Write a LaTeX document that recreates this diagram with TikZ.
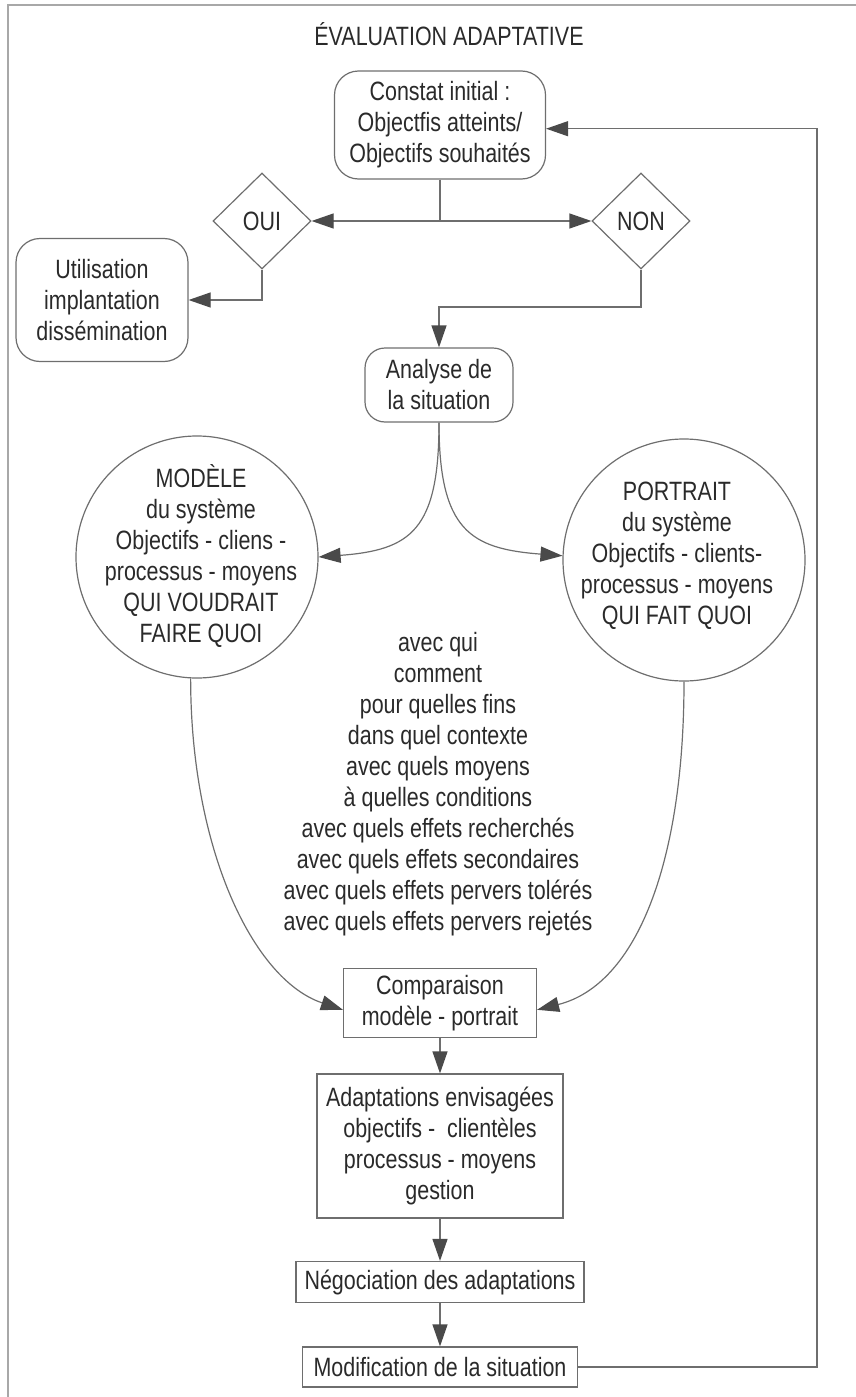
\documentclass[tikz,border=0pt]{standalone}
\usepackage{fontspec}
\setmainfont{Liberation Sans}[FakeStretch=0.81]
\usetikzlibrary{shapes.geometric,arrows.meta,calc}
\definecolor{ln}{HTML}{6E6E6E}
\definecolor{ah}{HTML}{4A4A4A}
\definecolor{tx}{HTML}{2A2A2A}
\definecolor{fr}{HTML}{A8A8A8}
\begin{document}
\begin{tikzpicture}[x=1pt,y=-1pt,
  every node/.style={font=\fontsize{26.5}{31}\selectfont, text=tx, align=center, inner sep=0pt},
  box/.style={draw=ln, line width=1.2pt, rectangle},
  rbox/.style={box, rounded corners=24pt},
  dia/.style={draw=ln, line width=1.2pt, diamond, minimum width=98pt, minimum height=96pt},
  circ/.style={draw=ln, line width=1.2pt, circle, minimum size=242pt},
  conn/.style={draw=ln, line width=1.2pt},
  arr/.style={conn, -{Triangle[length=22pt,width=15pt,color=ah]}},
]
\useasboundingbox (0,0) rectangle (856,1397);
\draw[fr, line width=1.6pt] (8,1397) -- (8,5) -- (856,5);

\node (title) at (449,34) {ÉVALUATION ADAPTATIVE};
\node[rbox, minimum width=211pt, minimum height=108pt] (const) at (440,125) {Constat initial :\\Objectfis atteints/\\Objectifs souhaités};
\node[dia] (oui) at (262,221) {OUI};
\node[dia] (non) at (641,221) {NON};
\node[rbox, minimum width=172pt, minimum height=123pt] (util) at (102,300) {Utilisation\\implantation\\dissémination};
\node[rbox, rounded corners=20pt, minimum width=148pt, minimum height=74pt] (ana) at (439,385) {Analyse de\\la situation};
\node[circ] (mod) at (197,557) {};
\node (modt) at (201,556) {MODÈLE\\du système\\Objectifs - cliens -\\processus - moyens\\QUI VOUDRAIT\\FAIRE QUOI};
\node[circ] (por) at (684,560) {};
\node (port) at (677,556) {PORTRAIT\\du système\\Objectifs - clients-\\processus - moyens\\QUI FAIT QUOI};
\node (list) at (438,784) {avec qui\\comment\\pour quelles fins\\dans quel contexte\\avec quels moyens\\à quelles conditions\\avec quels effets recherchés\\avec quels effets secondaires\\avec quels effets pervers tolérés\\avec quels effets pervers rejetés};
\node[box, minimum width=193pt, minimum height=69pt] (comp) at (440,1003) {Comparaison\\modèle - portrait};
\node[box, minimum width=246pt, minimum height=144pt] (adap) at (440,1146) {Adaptations envisagées\\objectifs - \ clientèles\\processus - moyens\\gestion};
\node[box, minimum width=288pt, minimum height=41pt] (neg) at (440,1282) {Négociation des adaptations};
\node[box, minimum width=275pt, minimum height=40pt] (modif) at (440,1367) {Modification de la situation};

\coordinate (j1) at (const.south |- oui.east);
\coordinate (y307) at (0,307);
\coordinate (nj) at (ana.north |- y307);
\coordinate (lp) at (817,1367);

\draw[conn] (const.south) -- (j1);
\draw[arr] (j1) -- (oui.east);
\draw[arr] (j1) -- (non.west);
\draw[arr] (oui.south) |- (util.east);
\draw[arr] (non.south) |- (nj) -- (ana.north);
\draw[arr] (ana.south) .. controls +(0,108) and +(92,-7) .. (mod.east);
\draw[arr] (ana.south) .. controls +(0,108) and +(-92,-7) .. (por.178);
\draw[arr] (mod.-93) .. controls +(0,170) and +(-90,-30) .. (comp.184);
\draw[arr] (por.-90) .. controls +(0,180) and +(100,-25) .. (comp.-4);
\draw[arr] (comp.south) -- (adap.north);
\draw[arr] (adap.south) -- (neg.north);
\draw[arr] (neg.south) -- (modif.north);
\draw[arr] (modif.east) -- (lp) |- (const.-2);
\end{tikzpicture}
\end{document}
